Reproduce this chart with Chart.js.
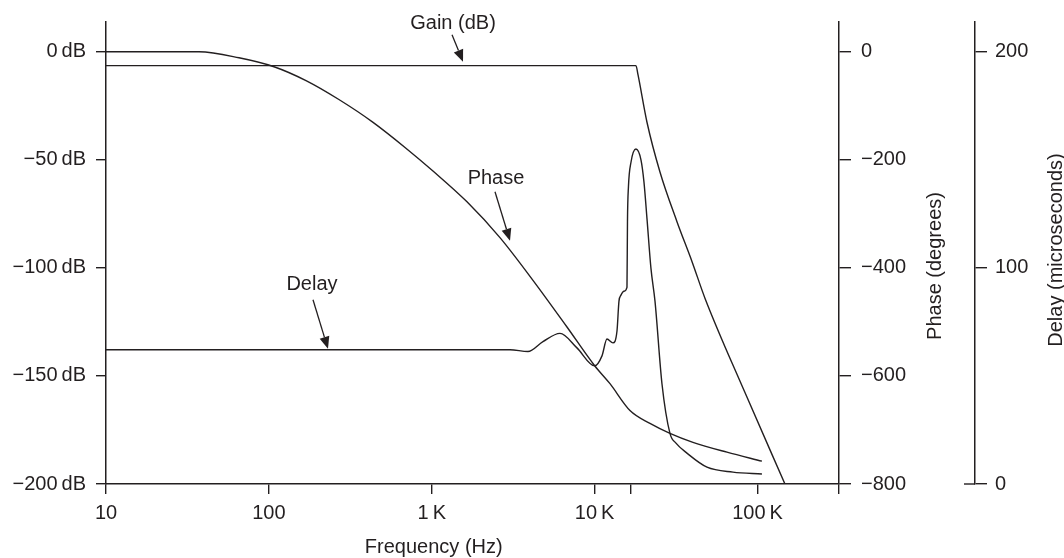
<!DOCTYPE html>
<html>
<head>
<meta charset="utf-8">
<script src="https://cdn.jsdelivr.net/npm/chart.js@4.4.1/dist/chart.umd.min.js"></script>
<style>
  html, body { margin: 0; padding: 0; background: #ffffff; }
  #wrap { width: 1064px; height: 558px; }
</style>
</head>
<body>
<div id="wrap"><canvas id="c" width="1064" height="558"></canvas></div>
<script>
// ---------------- data ----------------
const freqTicks      = [10, 100, 1000, 10000, 16700, 100000, 316228];
const freqTickLabels = ['10', '100', '1\u2009K', '10\u2009K', '', '100\u2009K', ''];
const dbTicks        = [0, -50, -100, -150, -200];
const phaseTicks     = [0, -200, -400, -600, -800];
const delayTicks     = [0, 100, 200];

const gainFreq = [10, 17930, 18450, 20950, 25170, 32010, 39560, 47540, 83700, 147300];
const gainDb   = [-6.4, -6.4, -10.6, -32.6, -55.6, -78.6, -97.0, -114.0, -157.7, -200];

const phaseFreq = [10, 37.2, 65.5, 107.5, 169, 269, 436, 694, 1017, 1645, 2622, 4181, 6761,
                   10000, 12415, 16470, 21850, 28990, 40120, 64880, 106400];
const phaseDeg  = [0, 0, -11, -27.6, -53.3, -88.3, -130.6, -178.4, -220.7, -277.7, -343.9, -423.0, -509.4,
                   -581.1, -614.3, -663.9, -687.8, -706.2, -722.8, -741.1, -757.7];

const delayFreq = [10, 3021, 3895, 4815, 6124, 7785, 10000, 11090, 11900, 12950, 13710, 14100,
                   14500, 15130, 15790, 15900, 16120, 16710, 17930, 19240, 20070, 20950, 22160,
                   23460, 25890, 28990, 31560, 36850, 48920, 70630, 106400];
const delayUs   = [62.1, 62.1, 61.3, 65.9, 69.7, 63.0, 54.7, 59.3, 67.1, 65.3, 70.8, 84.6,
                   87.4, 89.2, 91.0, 121.4, 137.5, 148.9, 155.0, 150.0, 139.8, 122.8, 99.8,
                   84.6, 46.4, 23.4, 18.9, 14.3, 7.8, 5.5, 4.6];

// ---------------- styling ----------------
const INK = '#231f20';
const FAMILY = '"Liberation Sans", Arial, Helvetica, sans-serif';
const FONT = { family: FAMILY, size: 20 };

const minusFmt = v => (v < 0 ? '\u2212' + Math.abs(v) : String(v));

// annotations: anchor in data space, offsets in px (tip, tail, label)
const notes = [
  { text: 'Gain (dB)', axis: 'yDb',    x: 1555, y: -6.4,  tip: [0, -4],  tail: [-11, -31], label: [-10, -37] },
  { text: 'Phase',     axis: 'yPhase', x: 3021, y: -370,  tip: [0, -11], tail: [-15, -60], label: [-14, -68] },
  { text: 'Delay',     axis: 'yDelay', x: 230.6, y: 62.1, tip: [0, -1],  tail: [-15, -50], label: [-16, -60] }
];

function arrow(ctx, x0, y0, x1, y1) {
  const ang = Math.atan2(y1 - y0, x1 - x0);
  const len = 12, hw = 5;
  const bx = x1 - len * Math.cos(ang), by = y1 - len * Math.sin(ang);
  ctx.beginPath();
  ctx.moveTo(x0, y0);
  ctx.lineTo(bx, by);
  ctx.stroke();
  ctx.beginPath();
  ctx.moveTo(x1, y1);
  ctx.lineTo(bx + hw * Math.sin(ang), by - hw * Math.cos(ang));
  ctx.lineTo(bx - hw * Math.sin(ang), by + hw * Math.cos(ang));
  ctx.closePath();
  ctx.fill();
}

const decor = {
  id: 'decor',
  afterDraw(chart) {
    const ctx = chart.ctx;
    const s = chart.scales;
    ctx.save();
    ctx.fillStyle = INK;
    ctx.strokeStyle = INK;
    ctx.lineWidth = 1.3;
    ctx.font = '20px ' + FAMILY;

    // annotations
    for (const n of notes) {
      const ax = s.x.getPixelForValue(n.x);
      const ay = s[n.axis].getPixelForValue(n.y);
      arrow(ctx, ax + n.tail[0], ay + n.tail[1], ax + n.tip[0], ay + n.tip[1]);
      ctx.textAlign = 'center';
      ctx.textBaseline = 'alphabetic';
      ctx.fillText(n.text, ax + n.label[0], ay + n.label[1]);
    }

    // small stub to the left of the delay axis at its zero tick
    const y0 = s.yDelay.getPixelForValue(0);
    ctx.lineWidth = 1.4;
    ctx.beginPath();
    ctx.moveTo(s.yDelay.left - 11, y0);
    ctx.lineTo(s.yDelay.left, y0);
    ctx.stroke();

    // axis titles
    ctx.textAlign = 'center';
    ctx.textBaseline = 'middle';
    ctx.fillText('Frequency (Hz)', s.x.getPixelForValue(1000) + 2, 547);

    const midPhase = 266, midDelay = 250;
    ctx.save();
    ctx.translate(s.yPhase.left + 96, midPhase);
    ctx.rotate(-Math.PI / 2);
    ctx.fillText('Phase (degrees)', 0, 0);
    ctx.restore();

    ctx.save();
    ctx.translate(s.yDelay.left + 81, midDelay);
    ctx.rotate(-Math.PI / 2);
    ctx.fillText('Delay (microseconds)', 0, 0);
    ctx.restore();

    ctx.restore();
  }
};

const ds = (fx, vy) => fx.map((f, i) => ({ x: f, y: vy[i] }));

const axisCommon = (tickLen) => ({
  grid: { drawOnChartArea: false, drawTicks: true, tickLength: tickLen, color: INK, lineWidth: 1.4 },
  border: { display: true, color: INK, width: 1.5 }
});

new Chart(document.getElementById('c'), {
  type: 'line',
  data: {
    datasets: [
      { label: 'Gain (dB)', data: ds(gainFreq, gainDb), yAxisID: 'yDb',
        borderColor: INK, borderWidth: 1.4, pointRadius: 0, cubicInterpolationMode: 'monotone', fill: false },
      { label: 'Phase', data: ds(phaseFreq, phaseDeg), yAxisID: 'yPhase',
        borderColor: INK, borderWidth: 1.4, pointRadius: 0, cubicInterpolationMode: 'monotone', fill: false },
      { label: 'Delay', data: ds(delayFreq, delayUs), yAxisID: 'yDelay',
        borderColor: INK, borderWidth: 1.4, pointRadius: 0, cubicInterpolationMode: 'monotone', fill: false }
    ]
  },
  options: {
    responsive: false,
    animation: false,
    events: [],
    layout: { padding: { top: 19, left: 0, right: 0, bottom: 0 } },
    plugins: { legend: { display: false }, tooltip: { enabled: false }, title: { display: false } },
    scales: {
      x: {
        type: 'logarithmic', position: 'bottom', min: 10, max: 316228,
        ...axisCommon(10),
        afterBuildTicks: sc => { sc.ticks = freqTicks.map(v => ({ value: v })); },
        afterFit: sc => { sc.height = 74; },
        ticks: { autoSkip: false, maxRotation: 0, minRotation: 0, padding: 7, color: INK, font: FONT,
                 callback: (v, i) => freqTickLabels[i] }
      },
      yDb: {
        type: 'linear', position: 'left', min: -200, max: 13.8,
        ...axisCommon(10),
        afterBuildTicks: sc => { sc.ticks = dbTicks.map(v => ({ value: v })); },
        afterFit: sc => { sc.width = 106; },
        ticks: { padding: 10, color: INK, font: FONT,
                 callback: v => minusFmt(v) + '\u2009dB' }
      },
      yPhase: {
        type: 'linear', position: 'right', weight: 0, min: -800, max: 55.2,
        ...axisCommon(12),
        afterBuildTicks: sc => { sc.ticks = phaseTicks.map(v => ({ value: v })); },
        afterFit: sc => { sc.width = 136; },
        ticks: { padding: 10, color: INK, font: FONT, callback: v => minusFmt(v) }
      },
      yDelay: {
        type: 'linear', position: 'right', weight: 1, min: 0, max: 213.8,
        ...axisCommon(12),
        afterBuildTicks: sc => { sc.ticks = delayTicks.map(v => ({ value: v })); },
        afterFit: sc => { sc.width = 89; },
        ticks: { padding: 8, color: INK, font: FONT, callback: v => minusFmt(v) }
      }
    }
  },
  plugins: [decor]
});
</script>
</body>
</html>
